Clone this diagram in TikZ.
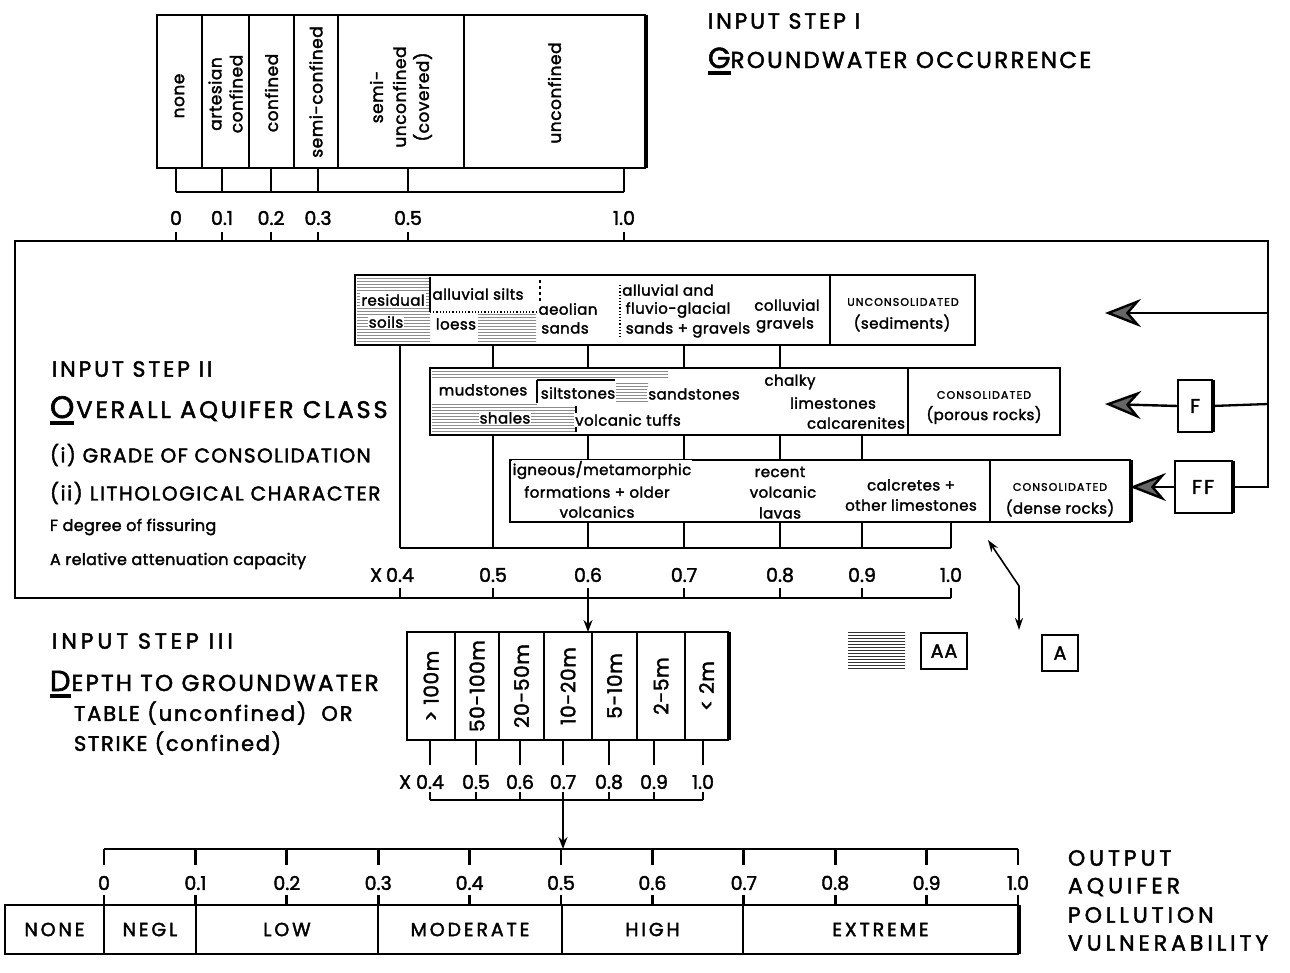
\documentclass[tikz,border=0pt]{standalone}
\usepackage{fontspec}
\setmainfont{Poppins}[FakeBold=2]
\usetikzlibrary{arrows.meta,patterns}
\newcommand{\fsz}[1]{\fontsize{#1}{#1}\selectfont}
\newcommand{\lsp}[1]{\addfontfeature{LetterSpace=#1}}
\begin{document}
\begin{tikzpicture}[x=1pt,y=-1pt,
  every node/.style={inner sep=0pt, outer sep=0pt},
  cellbox/.style={draw, line width=1.6pt, anchor=north west},
  ln/.style={line width=2.3pt},
  tk/.style={line width=2.8pt},
  num/.style={font=\fsz{19}},
  rot/.style={rotate=90, font=\fontsize{17}{21}\selectfont\lsp{3}, align=center},
  rotb/.style={rotate=90, font=\fsz{20}\lsp{3}},
  bt/.style={font=\fsz{15}\lsp{3}, fill=white, inner sep=1pt},
  sc/.style={font=\fsz{11}\lsp{10}},
  head/.style={font=\fsz{22}\lsp{13}, anchor=west},
  small/.style={font=\fsz{16}\lsp{2}, anchor=west},
  outtxt/.style={font=\fsz{19}\lsp{15}},
  bigarrow/.style={-{Stealth[length=36pt,width=28pt,inset=12pt,fill=black!60]}, line width=2.4pt},
  smallarrow/.style={-{Stealth[length=12pt,width=9pt]}, line width=2.4pt},
  hatch/.style={pattern=horizontal lines, pattern color=black!45},
  thinl/.style={line width=1.2pt},
]
\useasboundingbox (0,0) rectangle (1290,972);

% ---------------- Step I ----------------
\node[head] (t1a) at (708,21) {INPUT STEP I};
\node[anchor=base west, font=\fsz{29}] (gBig) at (708,68) {G};
\node[anchor=base west, font=\fsz{23}\lsp{10}] (gRest) at (gBig.base east) {ROUNDWATER OCCURRENCE};
\draw[line width=3.2pt] ([yshift=-5pt]gBig.base west) -- ([yshift=-5pt]gBig.base east);

\node[cellbox, minimum width=45, minimum height=153] (c1) at (157,15) {};
\node[cellbox, minimum width=47, minimum height=153] (c2) at (202,15) {};
\node[cellbox, minimum width=45, minimum height=153] (c3) at (249,15) {};
\node[cellbox, minimum width=44, minimum height=153] (c4) at (294,15) {};
\node[cellbox, minimum width=126, minimum height=153] (c5) at (338,15) {};
\node[cellbox, minimum width=181, minimum height=153] (c6) at (464,15) {};
\draw[line width=3pt] ([xshift=1.5pt]c6.north east) -- ([xshift=1.5pt]c6.south east);
\node[rot] at (c1.center |- 0,96) {none};
\node[rot] at (c2.center |- 0,94) {artesian\\confined};
\node[rot] at (c3.center |- 0,93) {confined};
\node[rot] at (c4.center |- 0,92) {semi-confined};
\node[rot, font=\fontsize{17}{23}\selectfont\lsp{3}] at (c5.center |- 0,97) {semi-\\unconfined\\(covered)};
\node[rot] at (c6.center |- 0,93) {unconfined};

\foreach \n/\x/\l in {a/176/0,b/222/0.1,c/271/0.2,d/318/0.3,e/408/0.5,f/624/1.0} {
  \coordinate (ut\n) at (\x,168);
  \coordinate (um\n) at (\x,192);
  \coordinate (ul\n) at (\x,232);
  \coordinate (uf\n) at (\x,241);
  \draw[tk] (ut\n) -- (um\n);
  \draw[tk] (ul\n) -- (uf\n);
  \node[num] (ulab\n) at (\x,218) {\l};
}
\draw[ln] (uma) -- (umf);

% ---------------- Step II frame ----------------
\coordinate (fTL) at (15,241);
\coordinate (fTR) at (1268,241);
\coordinate (fBL) at (15,598);
\coordinate (fBR) at (951,598);
\coordinate (fU) at (1268,313);
\coordinate (fF) at (1268,404);
\coordinate (fFF) at (1268,487);
\coordinate (arrU) at (1105,313);
\coordinate (arrF) at (1105,404);

\node[draw, line width=2pt, minimum width=34, minimum height=52, font=\fsz{20}] (F) at (1195,406) {F};
\node[draw, line width=2pt, minimum width=57, minimum height=52, font=\fsz{20}\lsp{10}] (FF) at (1203,487) {FF};
\draw[line width=3pt] ([xshift=1.5pt]F.north east) -- ([xshift=1.5pt]F.south east);
\draw[line width=3pt] ([xshift=1.5pt]FF.north east) -- ([xshift=1.5pt]FF.south east);

% Lithology boxes
\node[cellbox, line width=2pt, minimum width=620, minimum height=70] (ub) at (355,275) {};
\node[cellbox, minimum width=145, minimum height=70] (ulab) at (830,275) {};
\node[cellbox, line width=2pt, minimum width=630, minimum height=67] (pb) at (430,368) {};
\node[cellbox, minimum width=152, minimum height=67] (plab) at (908,368) {};
\node[cellbox, line width=2pt, minimum width=620, minimum height=62] (db) at (510,460) {};
\node[cellbox, minimum width=140, minimum height=62] (dlab) at (990,460) {};
\draw[line width=3pt] ([xshift=1.5pt]db.north east) -- ([xshift=1.5pt]db.south east);

% hatching
\fill[hatch] (357,277) rectangle (430,343);
\fill[hatch] (478,313) rectangle (536,343);
\fill[hatch] (432,370) rectangle (668,378);
\fill[hatch] (432,402) rectangle (537,433);
\fill[hatch] (537,406) rectangle (576,433);
\fill[hatch] (616,382) rectangle (648,402);

% inner frames
\draw[thinl] (430,277) -- (430,312);
\draw[thinl, dotted] (430,312) -- (540,312);
\draw[thinl, dashed] (540,280) -- (540,312);
\draw[thinl, dotted] (620,285) -- (620,338);
\draw[thinl] (537,380) -- (537,403);
\draw[thinl] (537,380) -- (615,380);
\draw[thinl] (576,406) -- (576,432);

% unconsolidated texts
\node[bt] at (393,300) {residual};
\node[bt] at (386,322) {soils};
\node[bt] at (478,294) {alluvial silts};
\node[bt] at (456,324) {loess};
\node[bt] at (568,309) {aeolian};
\node[bt] at (565,328) {sands};
\node[bt] at (668,290) {alluvial and};
\node[bt] at (678,310) {fluvio-glacial};
\node[bt] at (688,330) {sands + gravels};
\node[bt] at (787,305) {colluvial};
\node[bt] at (785,325) {gravels};
\node[sc] at (903,302) {UNCONSOLIDATED};
\node[bt] at (902,323) {(sediments)};

% porous texts
\node[bt] at (483,390) {mudstones};
\node[bt] at (578,393) {siltstones};
\node[bt] at (694,394) {sandstones};
\node[bt] at (505,418) {shales};
\node[bt] at (628,420) {volcanic tuffs};
\node[bt] at (790,382) {chalky};
\node[bt] at (833,403) {limestones};
\node[bt] at (856,423) {calcarenites};
\node[sc] at (984,395) {CONSOLIDATED};
\node[bt] at (984,415) {(porous rocks)};

% dense texts
\node[bt] at (602,470) {igneous/metamorphic};
\node[bt] at (597,492) {formations + older};
\node[bt] at (597,512) {volcanics};
\node[bt] at (780,472) {recent};
\node[bt] at (783,492) {volcanic};
\node[bt] at (780,513) {lavas};
\node[bt] at (911,485) {calcretes +};
\node[bt] at (911,505) {other limestones};
\node[sc] at (1060,487) {CONSOLIDATED};
\node[bt] at (1060,508) {(dense rocks)};

% scale II
\foreach \n/\x/\l in {4/400/0.4,5/493/0.5,6/588/0.6,7/684/0.7,8/780/0.8,9/862/0.9,10/951/1.0} {
  \coordinate (sb\n) at (\x,548);
  \coordinate (sl\n) at (\x,588);
  \coordinate (sf\n) at (\x,598);
  \draw[tk] (sl\n) -- (sf\n);
  \node[num] (slab\n) at (\x,575) {\l};
}
\node[num, anchor=east] (xII) at (382,575) {X};
\draw[ln] (sb4) -- (sb10);
\draw[tk] (sb4 |- ub.south) -- (sb4);
\draw[tk] (sb5 |- ub.south) -- (sb5 |- pb.north);
\draw[tk] (sb5 |- pb.south) -- (sb5);
\foreach \n in {6,7,8} {
  \draw[tk] (sb\n |- ub.south) -- (sb\n |- pb.north);
}
\foreach \n in {6,7,8,9} {
  \draw[tk] (sb\n |- pb.south) -- (sb\n |- db.north);
}
\foreach \n in {6,7,8,9,10} {
  \draw[tk] (sb\n |- db.south) -- (sb\n);
}

% frame
\draw[ln] (fBR) -- (fBL) -- (fTL) -- (fTR) -- (fFF) -- (FF.east);
\draw[bigarrow] (fU) -- (arrU);
\draw[ln] (fF) -- (F.east);
\draw[bigarrow] (F.west) -- (arrF);
\draw[bigarrow] (FF.west) -- (FF.west -| db.east);

% Step II texts
\node[head] (t2a) at (52,369) {INPUT STEP II};
\node[anchor=base west, font=\fsz{31}] (oBig) at (50,418) {O};
\node[anchor=base west, font=\fsz{24}\lsp{12}] (oRest) at ([xshift=2pt]oBig.base east) {VERALL AQUIFER CLASS};
\draw[line width=3.2pt] ([yshift=-5pt]oBig.base west) -- ([yshift=-5pt]oBig.base east);
\node[font=\fsz{20}\lsp{7}, anchor=west] (t2c) at (50,455) {(i) GRADE OF CONSOLIDATION};
\node[font=\fsz{20}\lsp{8}, anchor=west] (t2d) at (50,493) {(ii) LITHOLOGICAL CHARACTER};
\node[small] (t2e) at (50,527) {F degree of fissuring};
\node[small] (t2f) at (50,561) {A relative attenuation capacity};

% A arrow and legend
\coordinate (aTop) at (988,540);
\coordinate (aBend) at (1019,586);
\coordinate (aBot) at (1019,630);
\draw[line width=1.6pt, {Stealth[length=12pt,width=8pt]}-{Stealth[length=12pt,width=8pt]}] (aTop) -- (aBend) -- (aBot);
\fill[pattern=horizontal lines, pattern color=black!80] (848,632) rectangle (905,668);
\node[draw, line width=2pt, minimum width=46, minimum height=36, font=\fsz{19}\lsp{5}] (AA) at (944,651) {AA};
\node[draw, line width=2pt, minimum width=36, minimum height=36, font=\fsz{19}] (A) at (1060,653) {A};

% ---------------- Step III ----------------
\node[head, font=\fsz{22}\lsp{18}] (t3a) at (52,641) {INPUT STEP III};
\node[anchor=base west, font=\fsz{29}] (dBig) at (50,691) {D};
\node[anchor=base west, font=\fsz{23}\lsp{10}] (dRest) at ([xshift=1pt]dBig.base east) {EPTH TO GROUNDWATER};
\draw[line width=3.2pt] ([yshift=-5pt]dBig.base west) -- ([yshift=-5pt]dBig.base east);
\node[head, font=\fsz{21}\lsp{9}] (t3c) at (74,713) {TABLE (unconfined)\ \ OR};
\node[head, font=\fsz{21}\lsp{8}] (t3d) at (74,743) {STRIKE (confined)};

\node[cellbox, minimum width=48, minimum height=108] (d1) at (407,632) {};
\node[cellbox, minimum width=44, minimum height=108] (d2) at (455,632) {};
\node[cellbox, minimum width=45, minimum height=108] (d3) at (499,632) {};
\node[cellbox, minimum width=48, minimum height=108] (d4) at (544,632) {};
\node[cellbox, minimum width=45, minimum height=108] (d5) at (592,632) {};
\node[cellbox, minimum width=48, minimum height=108] (d6) at (637,632) {};
\node[cellbox, minimum width=43, minimum height=108] (d7) at (685,632) {};
\draw[line width=3pt] ([xshift=1.5pt]d7.north east) -- ([xshift=1.5pt]d7.south east);
\node[rotb] at (d1.center) {> 100m};
\node[rotb] at (d2.center) {50-100m};
\node[rotb] at (d3.center) {20-50m};
\node[rotb] at (d4.center) {10-20m};
\node[rotb] at (d5.center) {5-10m};
\node[rotb] at (d6.center) {2-5m};
\node[rotb] at (d7.center) {< 2m};

\draw[smallarrow] (sf6) -- (sf6 |- d4.north);

\foreach \n/\x/\l in {4/430/0.4,5/476/0.5,6/520/0.6,7/563/0.7,8/609/0.8,9/654/0.9,10/703/1.0} {
  \coordinate (dt\n) at (\x,740);
  \coordinate (dm\n) at (\x,765);
  \coordinate (du\n) at (\x,792);
  \coordinate (db\n) at (\x,800);
  \draw[tk] (dt\n) -- (dm\n);
  \draw[tk] (du\n) -- (db\n);
  \node[num] (dlab\n) at (\x,782) {\l};
}
\node[num, anchor=east] (xIII) at (411,782) {X};
\draw[ln] (db4) -- (db10);

% ---------------- Output ----------------
\foreach \i/\l in {0/0,1/0.1,2/0.2,3/0.3,4/0.4,5/0.5,6/0.6,7/0.7,8/0.8,9/0.9,10/1.0} {
  \pgfmathsetmacro{\xx}{104+91.4*\i}
  \coordinate (ob\i) at (\xx,849);
  \coordinate (om\i) at (\xx,865);
  \coordinate (ou\i) at (\xx,895);
  \coordinate (ot\i) at (\xx,905);
  \draw[tk] (ob\i) -- (om\i);
  \draw[tk] (ou\i) -- (ot\i);
  \node[num] (olab\i) at (\xx,883) {\l};
}
\draw[ln] (ob0) -- (ob10);
\draw[smallarrow] (db7) -- (db7 |- ob5);

\node[cellbox, minimum width=99, minimum height=49] (o1) at (5,905) {};
\node[cellbox, minimum width=92, minimum height=49] (o2) at (104,905) {};
\node[cellbox, minimum width=182, minimum height=49] (o3) at (196,905) {};
\node[cellbox, minimum width=184, minimum height=49] (o4) at (378,905) {};
\node[cellbox, minimum width=181, minimum height=49] (o5) at (562,905) {};
\node[cellbox, minimum width=275, minimum height=49] (o6) at (743,905) {};
\draw[line width=3pt] ([xshift=1.5pt]o6.north east) -- ([xshift=1.5pt]o6.south east);
\node[outtxt] at (o1.center) {NONE};
\node[outtxt] at (o2.center) {NEGL};
\node[outtxt] at (o3.center) {LOW};
\node[outtxt] at (o4.center) {MODERATE};
\node[outtxt] at (o5.center) {HIGH};
\node[outtxt] at (o6.center) {EXTREME};

\node[head, font=\fsz{22}\lsp{18}] (out1) at (1068,858) {OUTPUT};
\node[head, font=\fsz{22}\lsp{18}] (out2) at (1068,887) {AQUIFER};
\node[head, font=\fsz{22}\lsp{18}] (out3) at (1068,915) {POLLUTION};
\node[head, font=\fsz{22}\lsp{18}] (out4) at (1068,943) {VULNERABILITY};
\end{tikzpicture}
\end{document}
